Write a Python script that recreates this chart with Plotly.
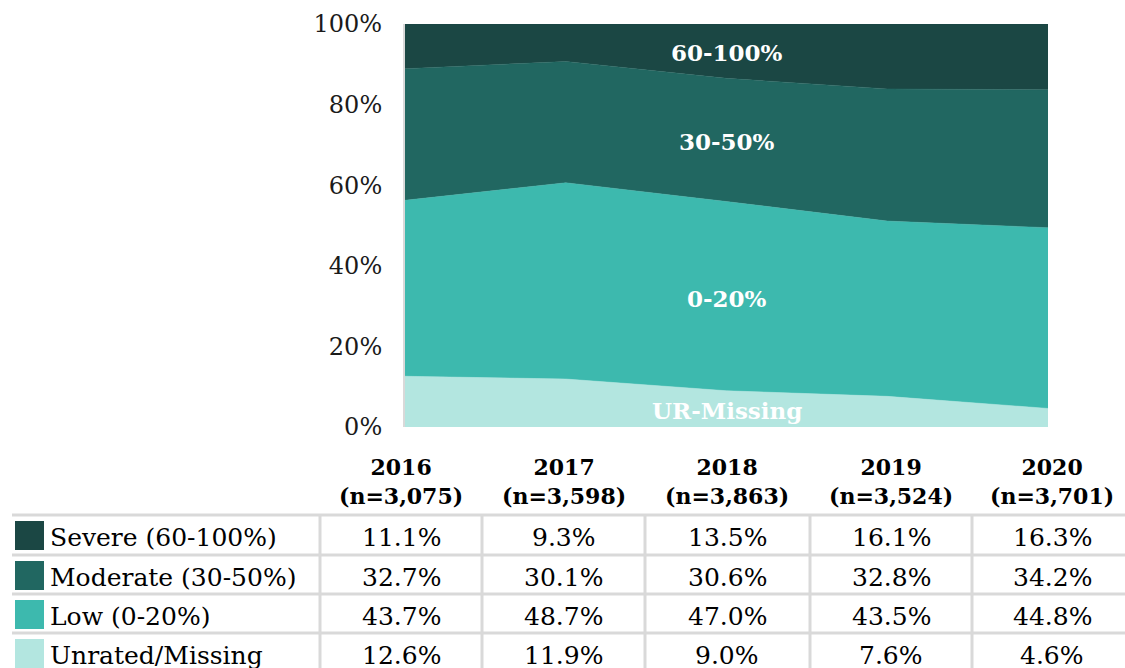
import plotly.graph_objects as go

years = ["2016", "2017", "2018", "2019", "2020"]
n_counts = ["3,075", "3,598", "3,863", "3,524", "3,701"]
series_names = ["Severe (60-100%)", "Moderate (30-50%)", "Low (0-20%)", "Unrated/Missing"]
area_labels = ["60-100%", "30-50%", "0-20%", "UR-Missing"]
severe = [11.1, 9.3, 13.5, 16.1, 16.3]
moderate = [32.7, 30.1, 30.6, 32.8, 34.2]
low = [43.7, 48.7, 47.0, 43.5, 44.8]
unrated = [12.6, 11.9, 9.0, 7.6, 4.6]
colors = ["#1b4744", "#216761", "#3db9ae", "#b3e6e0"]
y_ticks = [0, 20, 40, 60, 80, 100]

W, H = 1125, 668
FONT = "DejaVu Serif"

def px(x):
    return x / W

def py(y):
    return 1 - y / H

fig = go.Figure()
xs = list(range(len(years)))
for vals, name, col in [(unrated, series_names[3], colors[3]),
                        (low, series_names[2], colors[2]),
                        (moderate, series_names[1], colors[1]),
                        (severe, series_names[0], colors[0])]:
    fig.add_trace(go.Scatter(
        x=xs, y=vals, name=name, mode="lines", stackgroup="one",
        groupnorm="percent", line=dict(width=0.5, color=col),
        fillcolor=col, hoverinfo="skip", showlegend=False))

label_y = [93, 70.9, 32, 4.2]
for txt, yy in zip(area_labels, label_y):
    fig.add_annotation(x=2, y=yy, xref="x", yref="y", text="<b>" + txt + "</b>",
                       showarrow=False, font=dict(family=FONT, size=23, color="white"))

col_lines = [320, 482, 645, 810, 972, 1134]
row_lines = [515, 555, 594, 633, 672]
line_col = "#d9d9d9"

for yl in row_lines[:-1]:
    fig.add_shape(type="line", xref="paper", yref="paper",
                  x0=px(12), x1=px(W), y0=py(yl), y1=py(yl),
                  line=dict(color=line_col, width=3))
for xl in col_lines[:-1]:
    fig.add_shape(type="line", xref="paper", yref="paper",
                  x0=px(xl), x1=px(xl), y0=py(515), y1=py(H + 5),
                  line=dict(color=line_col, width=3))

centers = [(col_lines[i] + col_lines[i + 1]) / 2 for i in range(5)]
centers[0] = 401
centers[4] = 1052

for c, yr, n in zip(centers, years, n_counts):
    fig.add_annotation(x=px(c), y=py(481), xref="paper", yref="paper",
                       text="<b>" + yr + "<br>(n=" + n + ")</b>", showarrow=False,
                       align="center", xanchor="center", yanchor="middle",
                       font=dict(family=FONT, size=22, color="black"))

table_rows = [severe, moderate, low, unrated]
for r, (vals, name, col) in enumerate(zip(table_rows, series_names, colors)):
    top = row_lines[r]
    cy = top + 22
    fig.add_shape(type="rect", xref="paper", yref="paper",
                  x0=px(15), x1=px(44), y0=py(top + 6), y1=py(top + 35),
                  fillcolor=col, line=dict(width=0))
    fig.add_annotation(x=px(48), y=py(cy), xref="paper", yref="paper",
                       text=name, showarrow=False, xanchor="left", yanchor="middle",
                       font=dict(family=FONT, size=25, color="black"))
    for c, v in zip(centers, vals):
        fig.add_annotation(x=px(c), y=py(cy), xref="paper", yref="paper",
                           text=f"{v:.1f}%", showarrow=False, xanchor="center",
                           yanchor="middle", font=dict(family=FONT, size=25, color="black"))

fig.update_layout(
    width=W, height=H, margin=dict(l=0, r=0, t=0, b=0, autoexpand=False),
    paper_bgcolor="white", plot_bgcolor="white", showlegend=False,
    xaxis=dict(domain=[px(405), px(1048)], range=[0, 4], visible=False,
               automargin=False),
    yaxis=dict(domain=[py(427), py(24)], range=[0, 100], tickvals=y_ticks,
               ticktext=[f"{t}%" for t in y_ticks], showgrid=False, zeroline=False,
               showline=True, linecolor="#d9d9d9", linewidth=2, automargin=False,
               ticks="", ticklabelstandoff=16,
               tickfont=dict(family=FONT, size=24, color="#1a1a1a")),
)

fig.write_html("out.html", config={"displayModeBar": False},
               post_script="document.body.style.margin='0';document.body.style.padding='0';")
